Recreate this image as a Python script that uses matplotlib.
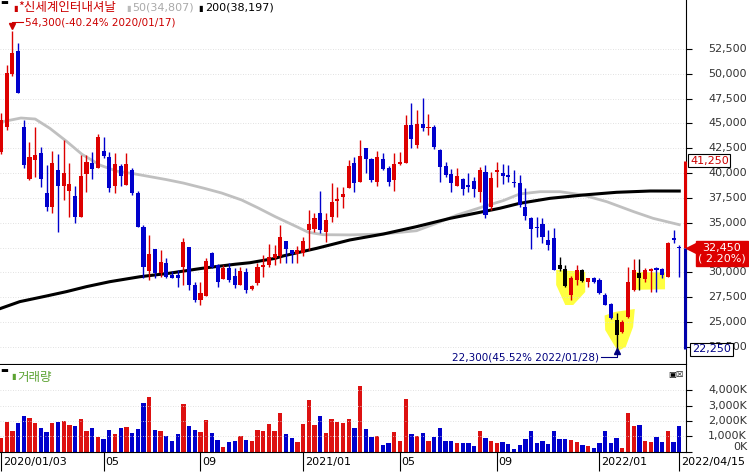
import matplotlib.pyplot as plt
from matplotlib import transforms
import numpy as np

plt.rcParams['font.family'] = ['DejaVu Sans', 'Noto Sans CJK KR']

W, H = 749, 472

# weekly candles, 2020/01/03 .. 2022/04/15
opens = [42130, 44650, 49980, 52300, 44600, 39410, 41350, 42060, 38030, 36620,
         40310, 38740, 38240, 37700, 35550, 39880, 41060, 40490, 42230, 41660,
         38710, 40720, 38810, 40310, 37970, 34550, 30180, 32330, 29980, 30920,
         29740, 29740, 30580, 32530, 28740, 27230, 27600, 32000, 30750, 29340,
         30410, 29640, 28740, 30060, 28300, 28970, 30580, 30750, 31420, 31690,
         33170, 32260, 31860, 31930, 34270, 34350, 35950, 34040, 35610, 37190,
         37630, 38540, 40990, 39140, 42500, 41390, 39140, 41390, 40490, 39310,
         40920, 40990, 44850, 42840, 44950, 44500, 44680, 42330, 40720, 39910,
         38740, 39380, 38810, 39240, 38130, 40150, 36620, 40150, 39980, 39810,
         39140, 38980, 36620, 35520, 34600, 34850, 33270, 33440, 30750, 30320,
         27730, 29240, 30250, 29000, 29410, 29240, 27730, 26820, 25210, 24030,
         25480, 28240, 29910, 29310, 30180, 30420, 30320, 29570, 33440, 32550]
highs = [46050, 50900, 54300, 53100, 45350, 43170, 44620, 42660, 40820, 42230,
         41900, 43340, 40990, 38740, 41830, 41830, 42160, 43940, 43610, 42160,
         42060, 40890, 42000, 40490, 38200, 34800, 33780, 32400, 32260, 31420,
         30170, 30260, 33440, 32600, 29070, 29040, 31420, 32090, 30800, 30750,
         30920, 30420, 30580, 30420, 28740, 30920, 31760, 32840, 32770, 34780,
         33200, 32300, 32700, 33600, 36290, 35950, 38200, 35950, 38980, 38640,
         38640, 41320, 41660, 43340, 42500, 41490, 42260, 41990, 40690, 41990,
         42160, 45860, 47030, 46360, 47530, 45960, 44850, 42400, 41160, 40390,
         40490, 39500, 40020, 39650, 40580, 40820, 40150, 41150, 40960, 40800,
         40310, 39810, 38470, 35620, 35620, 35450, 34280, 34450, 31590, 30750,
         29600, 30750, 30300, 29480, 29580, 29480, 27900, 26900, 25950, 25210,
         30510, 31320, 31320, 30420, 30420, 30580, 30420, 33030, 34280, 32760]
lows = [41900, 44300, 49800, 48100, 40520, 39310, 39640, 38640, 36220, 35950,
        34100, 37290, 35610, 34950, 35550, 38130, 39380, 40490, 41490, 38130,
        38030, 38710, 38810, 37800, 34550, 29410, 29240, 29410, 29510, 29410,
        29410, 28570, 28740, 28240, 27060, 26720, 27600, 30420, 28570, 29340,
        29070, 28400, 28740, 27970, 28240, 28740, 29570, 30580, 30750, 30920,
        30920, 30920, 31000, 31700, 32260, 34100, 33940, 33100, 35110, 35610,
        36460, 38540, 38130, 39140, 40050, 39140, 38710, 40290, 38710, 38230,
        40820, 40990, 42500, 42500, 44200, 43840, 42400, 39140, 39640, 38130,
        38740, 37800, 38130, 37630, 37120, 35450, 36300, 38640, 38880, 39140,
        38640, 36620, 35280, 32330, 33600, 32930, 32260, 30250, 30100, 28500,
        27230, 28740, 29000, 28500, 28900, 27800, 26720, 25280, 22300, 23870,
        25380, 28170, 28240, 29070, 28070, 28070, 29400, 29570, 32930, 29570]
closes = [45350, 50080, 52130, 48100, 40820, 41660, 41830, 39380, 36620, 40990,
          38740, 39980, 38910, 35550, 39750, 41160, 40390, 43610, 41730, 38480,
          40920, 39710, 40890, 37970, 34550, 30580, 31860, 29910, 31020, 29570,
          29470, 29410, 33100, 28740, 27230, 27900, 31150, 30580, 29070, 30410,
          29240, 28740, 30170, 28240, 28670, 30510, 30750, 31590, 31860, 33600,
          32360, 31860, 32260, 33170, 34880, 35450, 34270, 35280, 37060, 37360,
          37900, 40720, 39040, 41730, 41390, 39310, 41590, 40420, 39140, 40920,
          41160, 44850, 43410, 44950, 44510, 44600, 42600, 40590, 39810, 38980,
          39710, 38400, 38580, 38370, 40310, 35780, 39480, 40310, 39710, 39580,
          38980, 36790, 35680, 34350, 34500, 33540, 32760, 30250, 30320, 28640,
          29470, 30250, 29170, 29410, 29000, 27970, 26720, 25450, 23700, 25040,
          29070, 30250, 29470, 30250, 30350, 30250, 29740, 32930, 33270, 32450]
# volume in thousands
volumes = [903, 1913, 1333, 1849, 2300, 2171, 1849, 1526, 1268, 1849,
           1913, 1978, 1720, 1655, 2107, 1333, 1526, 946, 817, 1397,
           1139, 1526, 1591, 1204, 1462, 3203, 3590, 1397, 1333, 1010,
           688, 1139, 3139, 1655, 1397, 1268, 2042, 1204, 752, 301,
           623, 688, 1010, 752, 688, 1397, 1333, 1784, 1333, 2494,
           1139, 881, 623, 1784, 3397, 1720, 2300, 1204, 2107, 1913,
           1849, 2107, 1526, 4300, 1494, 974, 1039, 455, 585, 1299,
           714, 3442, 1169, 1039, 1234, 714, 974, 1559, 714, 714,
           585, 585, 585, 390, 1364, 909, 714, 585, 650, 520,
           195, 455, 844, 1364, 585, 714, 520, 1364, 844, 844,
           779, 650, 455, 390, 260, 585, 1364, 585, 909, 260,
           2533, 1689, 1754, 714, 650, 974, 650, 1364, 650, 1689]

# moving averages (week index, price)
ma50_x = [0, 3.5, 6, 8.6, 11.5, 14.2, 17.4, 20.3, 23.2, 29, 32, 35.8, 38.7, 42.2,
          45.1, 48.1, 51.9, 53.9, 56.5, 61.2, 67, 72.9, 76.4, 80, 84.6, 88.1, 91,
          94.6, 98.1, 102.1, 106.3, 111, 114.4, 119]
ma50_v = [45150, 45550, 45450, 44500, 43200, 41900, 40800, 40200, 39950, 39350,
          39000, 38450, 38000, 37300, 36500, 35620, 34600, 34050, 33800, 33780,
          33870, 34200, 34950, 35780, 36620, 37230, 37900, 38130, 38130, 37800,
          37120, 36120, 35450, 34807]
ma200_x = [0, 3.3, 8, 11.5, 15, 19.1, 24.4, 29.4, 35.2, 41, 43.7, 48.1, 49.5,
           55.4, 61.2, 67.1, 72.9, 78.8, 84.6, 87.5, 91, 96.3, 102.2, 108, 113.9, 119]
ma200_v = [26390, 27060, 27630, 28070, 28570, 29070, 29570, 29910, 30410, 30820,
           30980, 31420, 31660, 32430, 33270, 33870, 34610, 35450, 36120, 36460,
           36960, 37460, 37800, 38070, 38200, 38197]

price_ticks = list(range(22500, 52501, 2500))
vol_ticks = [0, 1000, 2000, 3000, 4000]
vol_labels = ["0K", "1,000K", "2,000K", "3,000K", "4,000K"]
date_ticks = [0, 18, 35, 53, 70, 87, 105, 119]
date_labels = ["2020/01/03", "05", "09", "2021/01", "05", "09", "2022/01", "2022/04/15"]

# highlighted zones (week index, price)
zone1 = [(97.4, 30250), (102.5, 30050), (102.5, 28030), (100.4, 26720),
         (99, 26720), (97.4, 28740)]
zone2 = [(105.9, 25660), (107.7, 26020), (111.2, 26320), (110.9, 24510),
         (109.6, 22490), (108.2, 22090), (106, 24200)]
zone3 = [(110.9, 30050), (116.5, 30000), (116.5, 28300), (110.9, 28250)]
black_candles = [98, 99, 102, 108, 112]

RED = '#DD0000'
BLUE = '#0000CC'

fig = plt.figure(figsize=(W / 100, H / 100), dpi=100)
ax = fig.add_axes([0, (H - 364) / H, 686 / W, 364 / H])
axv = fig.add_axes([0, (H - 452) / H, 686 / W, 87 / H])

idx = np.arange(len(opens))
o = np.array(opens)
c = np.array(closes)
up = c >= o
cols = np.where(up, RED, BLUE).astype(object)
for k in black_candles:
    cols[k] = 'black'

for z in (zone1, zone2, zone3):
    ax.fill([p[0] for p in z], [p[1] for p in z], color='#FFFF40', lw=0, zorder=1)

ax.plot(ma50_x, ma50_v, color='#C0C0C0', lw=2.0, zorder=2)
ax.plot(ma200_x, ma200_v, color='black', lw=2.2, zorder=2)

ax.vlines(idx, lows, highs, colors=list(cols), lw=1, zorder=3)
ax.bar(idx, np.maximum(np.abs(c - o), 120), bottom=np.minimum(o, c), width=0.72,
       color=list(cols), lw=0, zorder=4)

xlim = (-0.175, 120.18)
ax.set_xlim(*xlim)
ax.set_ylim(20780, 57434)
ax.set_xticks([])
ax.set_yticks(price_ticks)
ax.yaxis.set_ticks_position('right')
ax.tick_params(axis='y', direction='out', length=4, labelright=False, color='black')
ax.grid(axis='y', linestyle=(0, (1, 2)), color='#d8d8d8', lw=0.6)
for s in ['top', 'left']:
    ax.spines[s].set_visible(False)

bl = transforms.blended_transform_factory(fig.transFigure, ax.transData)
for t in price_ticks:
    ax.text(747 / W, t, f"{t:,}", transform=bl, ha='right', va='center',
            fontsize=8, color='#333333')

# range bar and price boxes at the right
ax.vlines(120.0, 32450, 41250, color=RED, lw=2.2, clip_on=False, zorder=6)
ax.vlines(120.0, 22250, 32450, color='#0000AA', lw=2.2, clip_on=False, zorder=6)
ax.text(690 / W, 41250, "41,250", transform=bl, ha='left', va='center', fontsize=8,
        color='#CC0000', zorder=10,
        bbox=dict(boxstyle='square,pad=0.15', fc='white', ec='black', lw=0.8))
ax.text(692 / W, 22250, "22,250", transform=bl, ha='left', va='center', fontsize=8,
        color='#000088', zorder=10,
        bbox=dict(boxstyle='square,pad=0.15', fc='white', ec='black', lw=0.8))
ax.text(722 / W, 31900, "32,450\n( 2.20%)", transform=bl, ha='center', va='center',
        fontsize=8, color='white', linespacing=1.05, zorder=10,
        bbox=dict(boxstyle='square,pad=0.18', fc='#DD0000', ec='#DD0000'))
ax.plot([691 / W], [32450], marker='<', color='#DD0000', markersize=7,
        transform=bl, clip_on=False, zorder=10)

# high / low annotations
ax.plot([3.9, 2, 2], [55170, 55170, 54900], color='#CC0000', lw=0.8, zorder=5)
ax.plot([2], [54850], marker='v', color='#CC0000', markersize=4, zorder=5)
ax.text(4.2, 55170, "54,300(-40.24% 2020/01/17)", fontsize=7.5, color='#CC0000',
        ha='left', va='center')
ax.plot([105.2, 108, 108], [21480, 21480, 22000], color='#000080', lw=0.8,
        zorder=5, clip_on=False)
ax.plot([108], [22050], marker='^', color='#000080', markersize=4, zorder=5)
ax.text(105.0, 21480, "22,300(45.52% 2022/01/28)", fontsize=7.5, color='#000080',
        ha='right', va='center')

# volume panel
vcols = np.where(up, '#DD1111', '#0000CC')
axv.bar(idx, volumes, width=0.75, color=list(vcols), lw=0)
axv.set_xlim(*xlim)
axv.set_ylim(-20, 5658)
axv.set_yticks(vol_ticks)
axv.yaxis.set_ticks_position('right')
axv.tick_params(axis='y', direction='out', length=4, labelright=False)
axv.grid(axis='y', linestyle=(0, (1, 2)), color='#d8d8d8', lw=0.6)
axv.spines['top'].set_visible(False)
axv.spines['left'].set_visible(False)
blv = transforms.blended_transform_factory(fig.transFigure, axv.transData)
for t, lab in zip(vol_ticks, vol_labels):
    axv.text(747 / W, t + (300 if t == 0 else 0), lab, transform=blv, ha='right',
             va='center', fontsize=8, color='#333333')

axv.set_xticks(date_ticks)
axv.tick_params(axis='x', direction='out', length=14, labelbottom=False, color='black')
bx = transforms.blended_transform_factory(axv.transData, fig.transFigure)
for t, lab in zip(date_ticks, date_labels):
    axv.text(t + 0.3, 1 - 462 / H, lab, transform=bx, ha='left', va='center',
             fontsize=8, color='black')

# legend texts
fig.text(0, 1 - 3 / H, "▬", fontsize=6, color='black', va='center')
fig.text(13 / W, 1 - 8 / H, "▮", fontsize=6, color='#CC0000', va='center')
fig.text(18 / W, 1 - 8 / H, "*신세계인터내셔날", fontsize=9, color='#CC0000', va='center',
         family=['Noto Sans CJK KR', 'DejaVu Sans'])
fig.text(126 / W, 1 - 8 / H, "▮", fontsize=6, color='#BBBBBB', va='center')
fig.text(132 / W, 1 - 8 / H, "50(34,807)", fontsize=8, color='#AAAAAA', va='center')
fig.text(198 / W, 1 - 8 / H, "▮", fontsize=6, color='black', va='center')
fig.text(205 / W, 1 - 8 / H, "200(38,197)", fontsize=8, color='black', va='center')

fig.text(0, 1 - 371 / H, "▬", fontsize=6, color='black', va='center')
fig.text(11 / W, 1 - 377 / H, "▮", fontsize=6, color='#5CA332', va='center')
fig.text(17 / W, 1 - 377 / H, "거래량", fontsize=9, color='#5CA332', va='center',
         family=['Noto Sans CJK KR', 'DejaVu Sans'])
fig.text(668 / W, 1 - 374 / H, "▣☒", fontsize=6, color='black', va='center')

fig.savefig('out.png', dpi=100)
